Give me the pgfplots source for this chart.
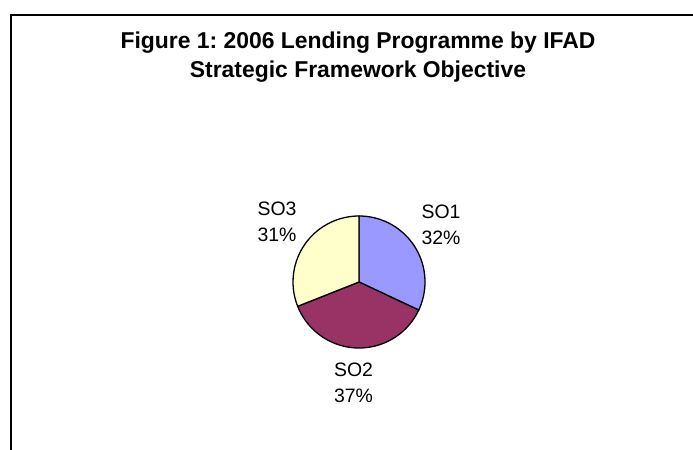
\documentclass[border=0pt]{standalone}
\usepackage{fontspec}
\setmainfont{Liberation Sans}
\usepackage{pgfplots}
\usepackage{pgfplotstable}
\pgfplotsset{compat=1.18}
\frenchspacing

\definecolor{so1}{HTML}{9999FF}
\definecolor{so2}{HTML}{993366}
\definecolor{so3}{HTML}{FFFFCC}

% share of the 2006 lending programme, per cent
\pgfplotstableread{
label pct
SO1 32
SO2 37
SO3 31
}\piedata

\begin{document}
\begin{tikzpicture}
\useasboundingbox (0,0) rectangle (693bp,450bp);
\clip (0,0) rectangle (693bp,450bp);

\pgfplotstablegetelem{0}{pct}\of\piedata \let\pa\pgfplotsretval
\pgfplotstablegetelem{1}{pct}\of\piedata \let\pb\pgfplotsretval
\pgfplotstablegetelem{2}{pct}\of\piedata \let\pc\pgfplotsretval
% slices run clockwise from 12 o'clock
\pgfmathsetmacro\aA{90}
\pgfmathsetmacro\aB{\aA-3.6*\pa}
\pgfmathsetmacro\aC{\aB-3.6*\pb}
\pgfmathsetmacro\aD{\aC-3.6*\pc}

\begin{axis}[
    at={(0,0)}, anchor=south west,
    width=693bp, height=450bp, scale only axis,
    xmin=0, xmax=693, ymin=0, ymax=450,
    hide axis, clip=false,
]
    % chart frame (runs off the right and bottom edges)
    \draw[black, line width=1.1bp] (axis cs:11,-20) -- (axis cs:11,435) -- (axis cs:720,435);

    \node[font=\bfseries\fontsize{23}{29}\selectfont, align=center]
        at (axis cs:358,393) {Figure 1: 2006 Lending Programme by IFAD\\Strategic Framework Objective};

    \filldraw[fill=so1, draw=black, line width=1.3bp, line join=round]
        (axis cs:359,168) -- ++(\aA:66bp) arc[start angle=\aA, end angle=\aB, radius=66bp] -- cycle;
    \filldraw[fill=so2, draw=black, line width=1.3bp, line join=round]
        (axis cs:359,168) -- ++(\aB:66bp) arc[start angle=\aB, end angle=\aC, radius=66bp] -- cycle;
    \filldraw[fill=so3, draw=black, line width=1.3bp, line join=round]
        (axis cs:359,168) -- ++(\aC:66bp) arc[start angle=\aC, end angle=\aD, radius=66bp] -- cycle;

    \node[font=\fontsize{19.5}{25.5}\selectfont, align=center]
        at (axis cs:441,225) {SO1\\\pa\%};
    \node[font=\fontsize{19.5}{25.5}\selectfont, align=center]
        at (axis cs:353.5,67) {SO2\\\pb\%};
    \node[font=\fontsize{19.5}{25.5}\selectfont, align=center]
        at (axis cs:277,228) {SO3\\\pc\%};
\end{axis}
\end{tikzpicture}
\end{document}
